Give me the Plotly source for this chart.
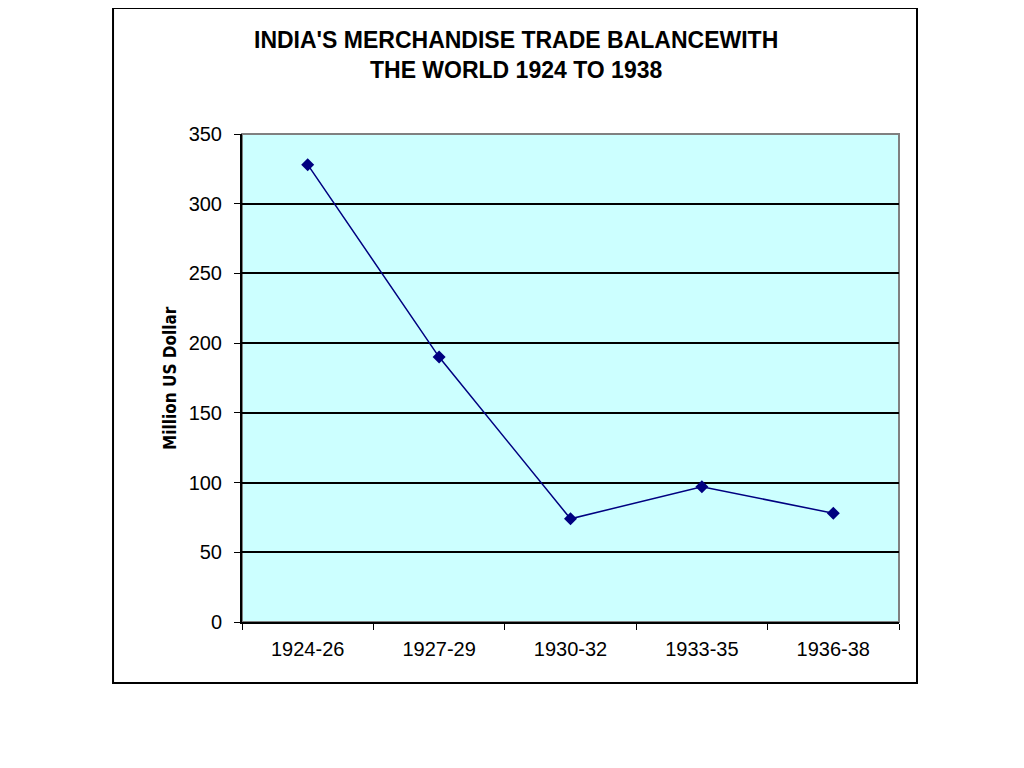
import plotly.graph_objects as go

periods = ["1924-26", "1927-29", "1930-32", "1933-35", "1936-38"]
balance = [328, 190, 74, 97, 78]

fig = go.Figure()
fig.add_trace(go.Scatter(x=periods, y=balance, mode="lines+markers",
                         line=dict(color="#000080", width=1.5),
                         marker=dict(symbol="diamond", size=10, color="#000080")))

# page body has an 8px margin, so the figure is 8px smaller on each side
fig.update_layout(
    width=1008, height=752,
    margin=dict(l=234, r=117, t=126, b=138),
    paper_bgcolor="white", plot_bgcolor="#ccffff",
    showlegend=False,
    font=dict(family="Liberation Sans, Arial", size=20, color="black"),
)
fig.update_xaxes(type="category", range=[-0.5, 4.5], showline=True, linecolor="black",
                 linewidth=2, ticks="outside", tickson="boundaries", ticklen=6,
                 tickcolor="black", showgrid=False, ticklabelstandoff=8)
fig.update_yaxes(range=[0, 350], dtick=50, showline=True, linecolor="black", linewidth=2,
                 ticks="outside", ticklen=6, tickcolor="black", ticklabelstandoff=8,
                 showgrid=True, gridcolor="black", gridwidth=1.5, zeroline=False)

# grey top and right edge of the plot area
fig.add_shape(type="rect", xref="paper", yref="paper", x0=0, x1=1, y0=0, y1=1,
              line=dict(color="#808080", width=2), layer="below")
# outer frame
fig.add_shape(type="rect", xref="paper", yref="paper", x0=-0.1963, x1=1.0274,
              y0=-0.125, y1=1.258, line=dict(color="black", width=2))

fig.add_annotation(xref="paper", yref="paper", x=0.417, y=1.162, yanchor="middle",
                   showarrow=False,
                   text="<b>INDIA'S MERCHANDISE TRADE BALANCEWITH<br>THE WORLD 1924 TO 1938</b>",
                   font=dict(size=23), align="center")
fig.add_annotation(xref="paper", yref="paper", x=-0.128, y=0.5, showarrow=False,
                   text="<b>Million US Dollar</b>", textangle=-90,
                   font=dict(family="DejaVu Sans Condensed, Liberation Sans", size=17))

fig.write_html("out.html")
